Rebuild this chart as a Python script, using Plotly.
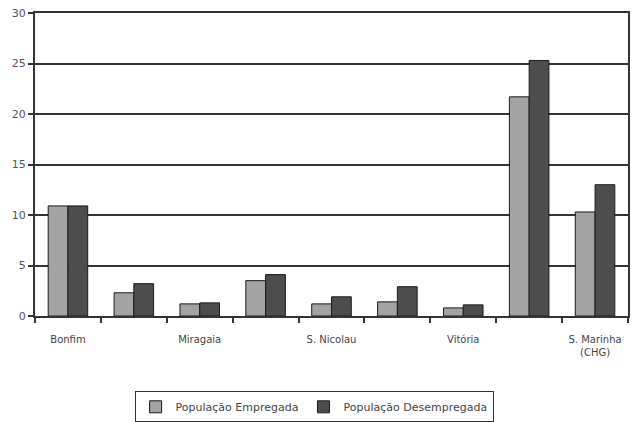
import plotly.graph_objects as go

categories = ["Bonfim", "Cedofeita", "Miragaia", "Sto. Ildefonso", "S. Nicolau",
              "Sé", "Vitória", "CHP", "S. Marinha<br>(CHG)"]
tick_labels = ["Bonfim", "", "Miragaia", "", "S. Nicolau", "", "Vitória", "", "S. Marinha<br>(CHG)"]
empregada = [10.9, 2.3, 1.2, 3.5, 1.2, 1.4, 0.8, 21.7, 10.3]
desempregada = [10.9, 3.2, 1.3, 4.1, 1.9, 2.9, 1.1, 25.3, 13.0]

fig = go.Figure()
fig.add_trace(go.Bar(x=categories, y=empregada, name="População Empregada",
                     marker=dict(color="#a3a3a3", line=dict(color="#1a1a1a", width=1))))
fig.add_trace(go.Bar(x=categories, y=desempregada, name="População Desempregada",
                     marker=dict(color="#4d4d4d", line=dict(color="#1a1a1a", width=1))))

fig.update_layout(
    width=632, height=422,
    margin=dict(l=35, r=2, t=13, b=106),
    paper_bgcolor="white", plot_bgcolor="white",
    barmode="group", bargap=0.4, bargroupgap=0,
    font=dict(family="DejaVu Sans", size=10, color="#444"),
    showlegend=True,
    legend=dict(orientation="h", xref="container", yref="container",
                x=0.497, xanchor="center", y=0.036, yanchor="middle",
                bordercolor="#333", borderwidth=1, font=dict(size=11, color="#444"),
                itemwidth=30, tracegroupgap=0),
)
fig.update_xaxes(
    type="category", tickvals=categories, ticktext=tick_labels,
    tickson="boundaries", ticks="outside", ticklen=5, tickcolor="#333", tickwidth=2,
    showline=True, linecolor="#333", linewidth=2, mirror=True,
    showgrid=False, tickfont=dict(size=10, color="#444"), ticklabelstandoff=13,
)
fig.update_yaxes(
    range=[0, 30], dtick=5, ticks="outside", ticklen=5, tickcolor="#333", tickwidth=2,
    showline=True, linecolor="#333", linewidth=2, mirror=True,
    showgrid=True, gridcolor="#333", gridwidth=2, zeroline=False,
    tickfont=dict(size=11, color="#555"),
)

fig.write_html("out.html", config={"displayModeBar": False},
               post_script="document.body.style.margin='0';")
